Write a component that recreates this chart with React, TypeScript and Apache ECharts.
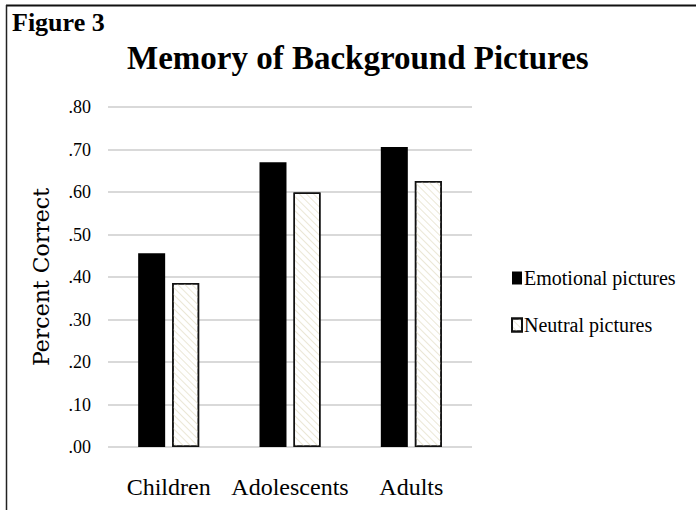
import React, { useEffect, useRef } from "react";
import * as echarts from "echarts";

const categories = ["Children", "Adolescents", "Adults"];
const emotional = [0.456, 0.670, 0.706];
const neutral = [0.386, 0.599, 0.626];
const seriesNames = ["Emotional pictures", "Neutral pictures"];
const yTicks = { min: 0, max: 0.8, interval: 0.1 };

export default function App() {
  const ref = useRef<HTMLDivElement>(null);
  useEffect(() => {
    if (!ref.current) return;
    const chart = echarts.init(ref.current, null, { renderer: "svg" });
    chart.setOption({
      animation: false,
      backgroundColor: "#ffffff",
      title: {
        text: "Memory of Background Pictures",
        left: 122,
        top: 36,
        textStyle: {
          fontFamily: "'Liberation Serif', serif",
          fontWeight: "bold",
          fontSize: 33,
          color: "#000",
        },
      },
      graphic: [
        {
          type: "text",
          left: 12,
          top: 9,
          style: {
            text: "Figure 3",
            fontFamily: "'Liberation Serif', serif",
            fontWeight: "bold",
            fontSize: 26,
            fill: "#000",
          },
        },
        {
          type: "line",
          shape: { x1: 6, y1: 5.5, x2: 696, y2: 5.5 },
          style: { stroke: "#111", lineWidth: 2 },
        },
        {
          type: "line",
          shape: { x1: 6.5, y1: 5, x2: 6.5, y2: 510 },
          style: { stroke: "#222", lineWidth: 1.5 },
        },
      ],
      legend: {
        orient: "vertical",
        left: 506,
        top: 263,
        itemWidth: 10,
        itemHeight: 13,
        itemGap: 27,
        icon: "rect",
        data: seriesNames,
        textStyle: {
          fontFamily: "'Liberation Serif', serif",
          fontSize: 20,
          color: "#000",
          padding: [0, 0, 0, -3],
        },
      },
      grid: { left: 108, right: 224, top: 107, bottom: 63 },
      xAxis: {
        type: "category",
        data: categories,
        axisLine: { show: false },
        axisTick: { show: false },
        axisLabel: {
          interval: 0,
          margin: 28,
          fontFamily: "'Liberation Serif', serif",
          fontSize: 24,
          color: "#000",
        },
      },
      yAxis: {
        type: "value",
        min: yTicks.min,
        max: yTicks.max,
        interval: yTicks.interval,
        name: "Percent Correct",
        nameLocation: "middle",
        nameGap: 56,
        nameTextStyle: {
          fontFamily: "'DejaVu Serif', serif",
          fontSize: 22,
          color: "#000",
        },
        axisLine: { show: false },
        axisTick: { show: false },
        axisLabel: {
          margin: 17,
          fontFamily: "'Liberation Serif', serif",
          fontSize: 18,
          color: "#000",
          formatter: (v: number) => v.toFixed(2).replace(/^0/, ""),
        },
        splitLine: { lineStyle: { color: "#d9d9d9", width: 2 } },
      },
      series: [
        {
          name: seriesNames[0],
          type: "bar",
          data: emotional,
          barWidth: 27,
          barGap: "26%",
          itemStyle: { color: "#000" },
        },
        {
          name: seriesNames[1],
          type: "bar",
          data: neutral,
          barWidth: 27,
          itemStyle: {
            color: "#ffffff",
            borderColor: "#111",
            borderWidth: 1.5,
            decal: {
              symbol: "rect",
              symbolSize: 1,
              dashArrayX: [[1, 0]],
              dashArrayY: [1, 3.5],
              rotation: Math.PI / 4,
              color: "#ebe7d6",
              backgroundColor: "#ffffff",
            },
          },
        },
      ],
    });
    return () => chart.dispose();
  }, []);
  return (
    <div
      ref={ref}
      style={{ position: "fixed", left: 0, top: 0, width: 696, height: 510 }}
    />
  );
}
